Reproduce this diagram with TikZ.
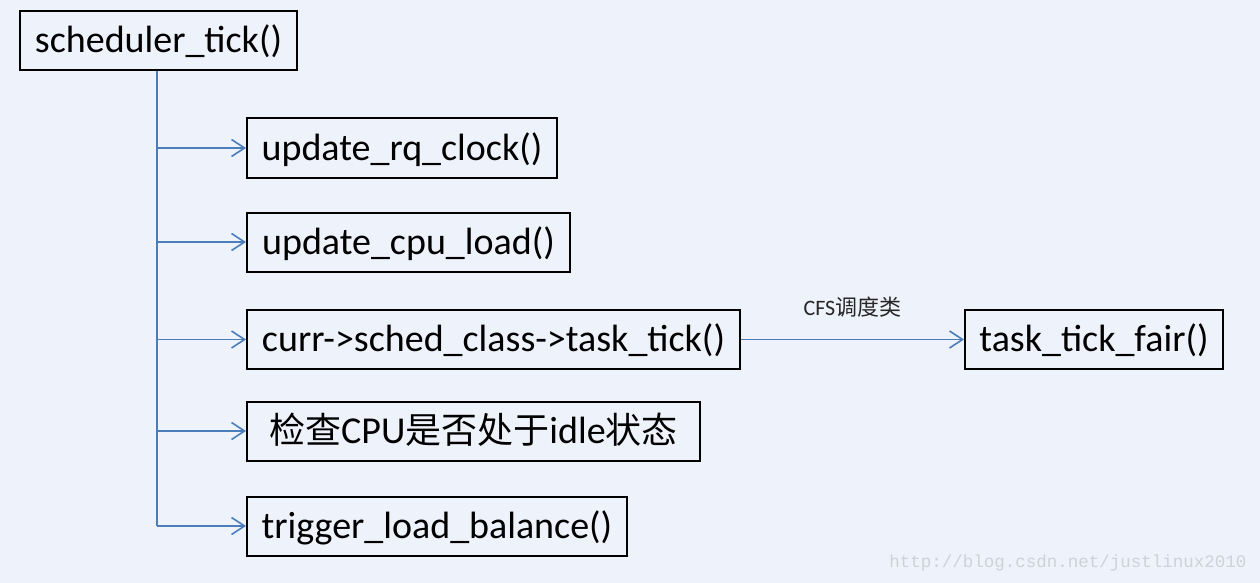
\documentclass[tikz,border=0pt]{standalone}
\usepackage{fontspec}
\setmainfont{Carlito}
\newfontfamily\cjk{Noto Sans CJK SC}
\newfontfamily\wmfont{Liberation Mono}
\usetikzlibrary{arrows.meta}
\definecolor{bg}{HTML}{EEF2FA}
\definecolor{lineblue}{HTML}{4A7EBB}
\definecolor{wm}{HTML}{CDD1D8}
\begin{document}
\begin{tikzpicture}[x=1pt,y=-1pt,
  fbox/.style={draw=black, line width=2pt, rectangle, inner sep=0pt, minimum height=59pt,
    font=\fontsize{38}{42}\selectfont, anchor=west, text height=28pt, text depth=4pt},
  conn/.style={draw=lineblue, line width=1.8pt},
  arr/.style={conn, -{Straight Barb[length=13pt,width=17pt,line width=1.6pt]}}
]
\useasboundingbox[fill=bg] (0,0) rectangle (1260,583);
\node[fbox, minimum width=277pt] (st) at (19,41) {scheduler\_tick()};
\node[fbox, minimum width=310pt] (n1) at (246,148) {update\_rq\_clock()};
\node[fbox, minimum width=323pt] (n2) at (246,242) {update\_cpu\_load()};
\node[fbox, minimum width=493pt] (n3) at (246,339.5) {curr->sched\_class->task\_tick()};
\node[fbox, minimum width=453pt] (n4) at (246,431) {{\cjk\fontsize{36}{40}\selectfont 检查}CPU{\cjk\fontsize{36}{40}\selectfont 是否处于}idle{\cjk\fontsize{36}{40}\selectfont 状态}};
\node[fbox, minimum width=380pt] (n5) at (246,526) {trigger\_load\_balance()};
\node[fbox, minimum width=258pt] (tf) at (964,339.5) {task\_tick\_fair()};
\coordinate (j1) at (157,148);
\coordinate (j2) at (157,242);
\coordinate (j3) at (157,339.5);
\coordinate (j4) at (157,431);
\coordinate (j5) at (157,526);
\draw[conn] (st.south -| j1) -- (j5);
\draw[arr] (j1) -- (n1.west);
\draw[arr] (j2) -- (n2.west);
\draw[arr] (j3) -- (n3.west);
\draw[arr] (j4) -- (n4.west);
\draw[arr] (j5) -- (n5.west);
\draw[arr] (n3.east) -- node[above=18pt, font=\fontsize{22}{24}\selectfont, text=black!85] (lbl) {CFS{\cjk 调度类}} (tf.west);
\node[anchor=east, text=wm, font=\wmfont\fontsize{17.5}{20}\selectfont] (wmk) at (1250,563) {http://blog.csdn.net/justlinux2010};
\end{tikzpicture}
\end{document}
